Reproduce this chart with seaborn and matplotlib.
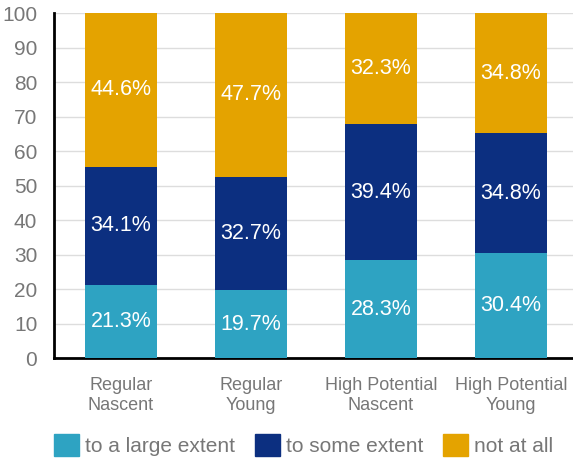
import matplotlib
matplotlib.use("Agg")
import matplotlib.pyplot as plt
import matplotlib.patches as mpatches
import numpy as np
import pandas as pd
import seaborn as sns

categories = ["Regular\nNascent", "Regular\nYoung", "High Potential\nNascent", "High Potential\nYoung"]
large_extent = [21.3, 19.7, 28.3, 30.4]
some_extent = [34.1, 32.7, 39.4, 34.8]
not_at_all = [44.6, 47.7, 32.3, 34.8]
series_names = ["to a large extent", "to some extent", "not at all"]
colors = ["#2ea3c2", "#0c2f80", "#e4a300"]

sns.set_theme(style="white")
plt.rcParams["font.family"] = ["Liberation Sans", "DejaVu Sans"]

fig = plt.figure(figsize=(5.73, 4.61), dpi=100)
ax = fig.add_axes([54 / 573, 0.2234, 519 / 573, 0.7484])

layers = [large_extent, some_extent, not_at_all]
cum = np.cumsum(np.array(layers), axis=0)

# Stack by drawing cumulative totals from tallest to shortest
for i in range(len(layers) - 1, -1, -1):
    df = pd.DataFrame({"cat": categories, "val": cum[i]})
    sns.barplot(data=df, x="cat", y="val", color=colors[i], width=0.55,
                saturation=1, linewidth=0, ax=ax, zorder=3)

# Value labels centered in each segment
for i, vals in enumerate(layers):
    bottoms = cum[i] - np.array(vals)
    for j, v in enumerate(vals):
        ax.text(j, bottoms[j] + v / 2, f"{v:.1f}%", ha="center", va="center",
                color="white", fontsize=15.5, zorder=4)

ax.set_ylim(0, 100)
ax.set_xlim(-0.515, 3.477)
ax.set_yticks(range(0, 101, 10))
ax.yaxis.grid(True, color="#dddddd", linewidth=1, zorder=0)
ax.set_axisbelow(True)
ax.set_xlabel("")
ax.set_ylabel("")
ax.tick_params(axis="y", labelsize=15, labelcolor="#777777", length=0, pad=12)
ax.tick_params(axis="x", labelsize=13, labelcolor="#777777", length=0, pad=14)
for s in ["top", "right"]:
    ax.spines[s].set_visible(False)
for s in ["left", "bottom"]:
    ax.spines[s].set_color("black")
    ax.spines[s].set_linewidth(2)

handles = [mpatches.Patch(color=c, label=n) for c, n in zip(colors, series_names)]
leg = fig.legend(handles=handles, loc="center", bbox_to_anchor=(0.53, 0.034), ncol=3,
                 frameon=False, fontsize=15, handlelength=1.2, handleheight=1.2,
                 handletextpad=0.3, columnspacing=0.95)
for t in leg.get_texts():
    t.set_color("#777777")

fig.savefig("out.png", dpi=100)
